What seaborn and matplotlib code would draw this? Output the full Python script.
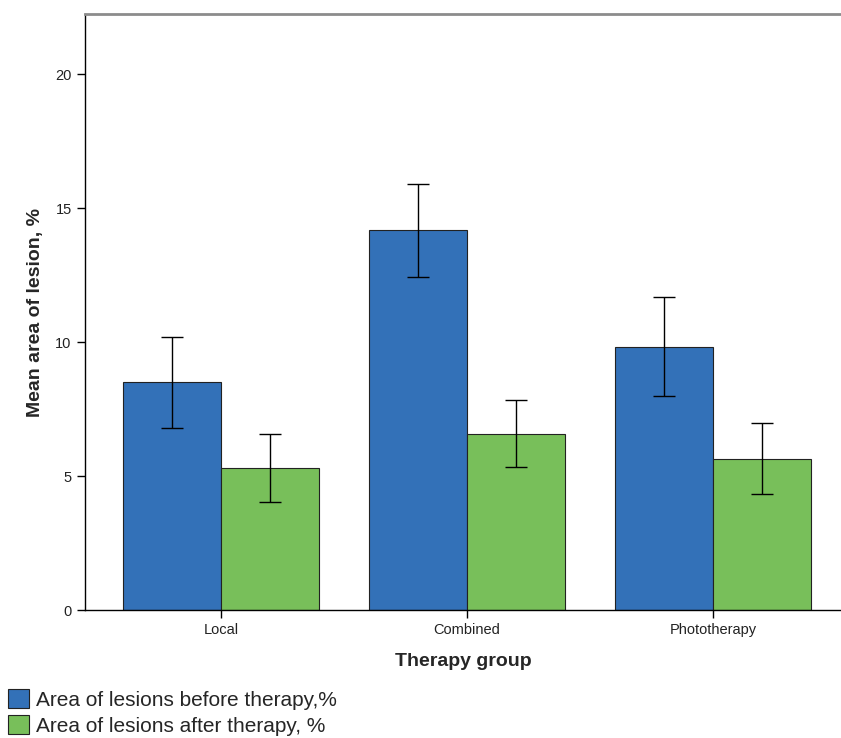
import matplotlib
matplotlib.use("Agg")
import matplotlib.pyplot as plt
import seaborn as sns
import pandas as pd
import numpy as np

groups = ["Local", "Combined", "Phototherapy"]
series = ["Area of lesions before therapy,%", "Area of lesions after therapy, %"]
before_mean = [8.5, 14.2, 9.82]
before_low = [6.8, 12.45, 8.0]
before_high = [10.2, 15.92, 11.68]
after_mean = [5.3, 6.57, 5.65]
after_low = [4.05, 5.33, 4.33]
after_high = [6.57, 7.84, 6.98]
colors = ["#3371b8", "#78bf5a"]
yticks = [0, 5, 10, 15, 20]

sns.set_theme(style="white")
plt.rcParams['font.family'] = ['Liberation Sans', 'DejaVu Sans']

df = pd.DataFrame({
    "group": groups * 2,
    "series": [series[0]] * 3 + [series[1]] * 3,
    "value": before_mean + after_mean,
})

fig = plt.figure(figsize=(8.41, 7.38), dpi=100)
ax = fig.add_axes([0.101, 0.1734, 0.899, 0.8076])
sns.barplot(data=df, x="group", y="value", hue="series", hue_order=series,
            order=groups, palette=colors, errorbar=None, width=0.8,
            saturation=1, edgecolor="#222222", linewidth=0.8, ax=ax)

means = [before_mean, after_mean]
lows = [before_low, after_low]
highs = [before_high, after_high]
for cont, m, lo, hi in zip(ax.containers, means, lows, highs):
    xs = [b.get_x() + b.get_width() / 2 for b in cont]
    m = np.array(m)
    ax.errorbar(xs, m, yerr=[m - np.array(lo), np.array(hi) - m], fmt='none',
                ecolor='black', elinewidth=1, capsize=8, capthick=1)

handles, labels = ax.get_legend_handles_labels()
if ax.get_legend() is not None:
    ax.get_legend().remove()

ax.set_xlim(-0.553, 2.52)
ax.set_ylim(0, 22.25)
ax.set_yticks(yticks)

for s in ["left", "bottom"]:
    ax.spines[s].set_color("black")
    ax.spines[s].set_linewidth(1)
ax.spines["top"].set_color("#8c8c8c")
ax.spines["top"].set_linewidth(2)
ax.spines["right"].set_visible(False)

ax.tick_params(axis='both', bottom=True, left=True, direction='out', length=6,
               width=1, color='black', labelsize=10.5, labelcolor='#222222')

ax.set_ylabel("Mean area of lesion, %", fontsize=14, fontweight='bold', labelpad=8)
ax.set_xlabel("Therapy group", fontsize=14, fontweight='bold', labelpad=11)

fig.legend(handles, labels, loc='lower left', bbox_to_anchor=(0.0, -0.008),
           frameon=False, fontsize=15, handlelength=1.0, handleheight=1.0,
           handletextpad=0.35, labelspacing=0.25, borderaxespad=0.0)

fig.savefig("out.png", dpi=100)
